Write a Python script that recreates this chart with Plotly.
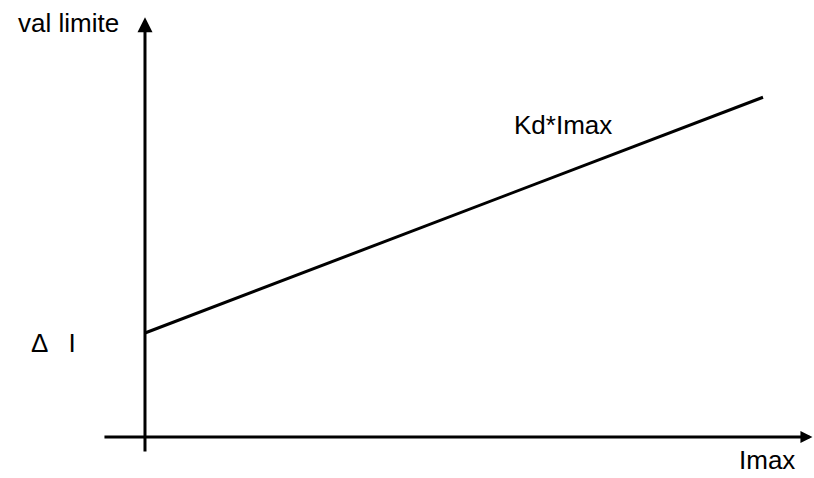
import plotly.graph_objects as go

# Characteristic: limit value grows linearly with Imax, starting at ΔI
imax = [0, 10]
delta_i = 3.0
kd = 0.68
val_limite = [delta_i + kd * v for v in imax]

x_range = [-2.346, 10.825]
y_range = [-1.183, 12.605]

FONT = dict(family="Liberation Sans, Arial, sans-serif", size=26, color="black")

fig = go.Figure()
fig.add_trace(go.Scatter(
    x=imax, y=val_limite, mode="lines",
    line=dict(color="black", width=3), hoverinfo="skip", showlegend=False,
))

# Axes drawn as arrows crossing at the origin
axis_arrows = [
    dict(x=0, y=12.11, ax=0, ay=-0.46, size=1.0),     # vertical axis
    dict(x=10.8, y=0, ax=-0.68, ay=0, size=0.8),      # horizontal axis
]
for a in axis_arrows:
    fig.add_annotation(
        x=a["x"], y=a["y"], ax=a["ax"], ay=a["ay"],
        xref="x", yref="y", axref="x", ayref="y",
        text="", showarrow=True, arrowhead=2, arrowsize=a["size"],
        arrowwidth=3, arrowcolor="black",
    )

texts = [
    ("val limite", -1.23, 11.94, "middle"),
    ("Kd*Imax", 6.76, 9.0, "middle"),
    ("Δ   I", -1.48, 2.71, "middle"),
    ("Imax", 10.06, -1.12, "bottom"),
]
for t, x, y, ya in texts:
    fig.add_annotation(x=x, y=y, xref="x", yref="y", text=t, yanchor=ya,
                       borderpad=0, showarrow=False, font=FONT)

fig.update_xaxes(range=x_range, visible=False, fixedrange=True)
fig.update_yaxes(range=y_range, visible=False, fixedrange=True)
fig.update_layout(
    width=814, height=478,
    margin=dict(l=0, r=0, t=0, b=0),
    paper_bgcolor="white", plot_bgcolor="white",
)

fig.write_html("out.html")
